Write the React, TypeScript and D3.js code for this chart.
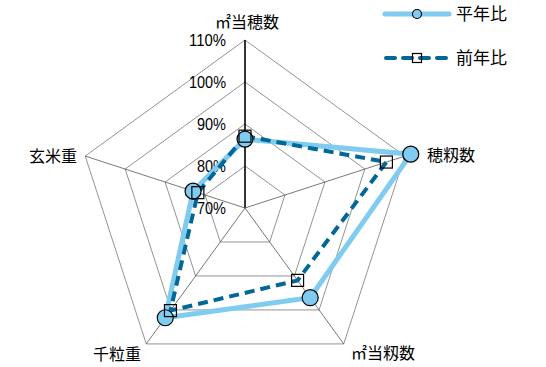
import React from "react";
import * as d3 from "d3";

const categories = ["㎡当穂数", "穂籾数", "㎡当籾数", "千粒重", "玄米重"];
const heinenhi = [86.4, 111.5, 96.4, 102.3, 83.0];
const zennenhi = [87.1, 105.4, 91.3, 100.2, 81.8];
const ticks = [70, 80, 90, 100, 110];
const seriesNames = ["平年比", "前年比"];

const W = 546, H = 367;
const cx = 245, cy = 208, R = 168;
const LIGHT = "#7fccf0";
const DARK = "#006796";
const CJK = "'Noto Sans CJK JP', sans-serif";

export default function App() {
  const r = d3.scaleLinear().domain([70, 110]).range([0, R]);
  const ang = (i: number) => (i * 2 * Math.PI) / categories.length;
  const pt = (i: number, v: number): [number, number] => [
    cx + r(v) * Math.sin(ang(i)),
    cy - r(v) * Math.cos(ang(i)),
  ];
  const line = d3.line<[number, number]>().curve(d3.curveLinearClosed);
  const ring = (v: number) => line(categories.map((_, i) => pt(i, v)))!;

  const labelPos = [
    { x: 247, y: 22, a: "middle" },
    { x: 427, y: 155, a: "start" },
    { x: 383, y: 353, a: "middle" },
    { x: 117, y: 354, a: "middle" },
    { x: 77, y: 156, a: "end" },
  ];

  const hPts = heinenhi.map((v, i) => pt(i, v));
  const zPts = zennenhi.map((v, i) => pt(i, v));

  return (
    <svg width={W} height={H} style={{ position: "absolute", left: 0, top: 0, background: "#fff" }}>
      {ticks.slice(1).map((t) => (
        <path key={t} d={ring(t)} fill="none" stroke="#777" strokeWidth={0.8} />
      ))}
      {categories.map((c, i) => {
        const [x, y] = pt(i, 110);
        return (
          <line key={c} x1={cx} y1={cy} x2={x} y2={y}
            stroke={i === 0 ? "#000" : "#555"} strokeWidth={i === 0 ? 1.6 : 0.8} />
        );
      })}
      {ticks.map((t) => {
        const s = `${t}%`;
        return (
          <text key={t} x={226} y={cy - r(t)} dy="0.36em" textAnchor="end"
            fontFamily="'Liberation Sans', Arial, sans-serif" fontSize={16.5} fill="#000"
            textLength={s.length === 4 ? 37 : 29} lengthAdjust="spacingAndGlyphs">
            {s}
          </text>
        );
      })}
      {categories.map((c, i) => (
        <text key={c} x={labelPos[i].x} y={labelPos[i].y} dy="0.36em"
          textAnchor={labelPos[i].a as any} fontFamily={CJK} fontSize={16} fill="#000">
          {c}
        </text>
      ))}
      <path d={line(hPts)!} fill="none" stroke={LIGHT} strokeWidth={5} strokeLinejoin="miter" />
      <path d={line(zPts)!} fill="none" stroke={DARK} strokeWidth={4} strokeDasharray="10,6" />
      {hPts.map(([x, y], i) => (
        <circle key={i} cx={x} cy={y} r={8} fill={LIGHT} stroke="#000" strokeWidth={1.2} />
      ))}
      {zPts.map(([x, y], i) => (
        <rect key={i} x={x - 6} y={y - 6} width={12} height={12} fill="none" stroke="#000" strokeWidth={1.2} />
      ))}
      <g>
        <line x1={385} x2={449} y1={14} y2={14} stroke={LIGHT} strokeWidth={5} strokeLinecap="round" />
        <circle cx={417} cy={14} r={4.5} fill={LIGHT} stroke="#000" strokeWidth={1.2} />
        <text x={456} y={14} dy="0.36em" fontFamily={CJK} fontSize={17}>{seriesNames[0]}</text>
        <line x1={386} x2={449} y1={58} y2={58} stroke={DARK} strokeWidth={4} strokeDasharray="9,8" strokeLinecap="round" />
        <rect x={412.5} y={53.5} width={9} height={9} fill="none" stroke="#000" strokeWidth={1.2} />
        <text x={456} y={58} dy="0.36em" fontFamily={CJK} fontSize={17}>{seriesNames[1]}</text>
      </g>
    </svg>
  );
}
